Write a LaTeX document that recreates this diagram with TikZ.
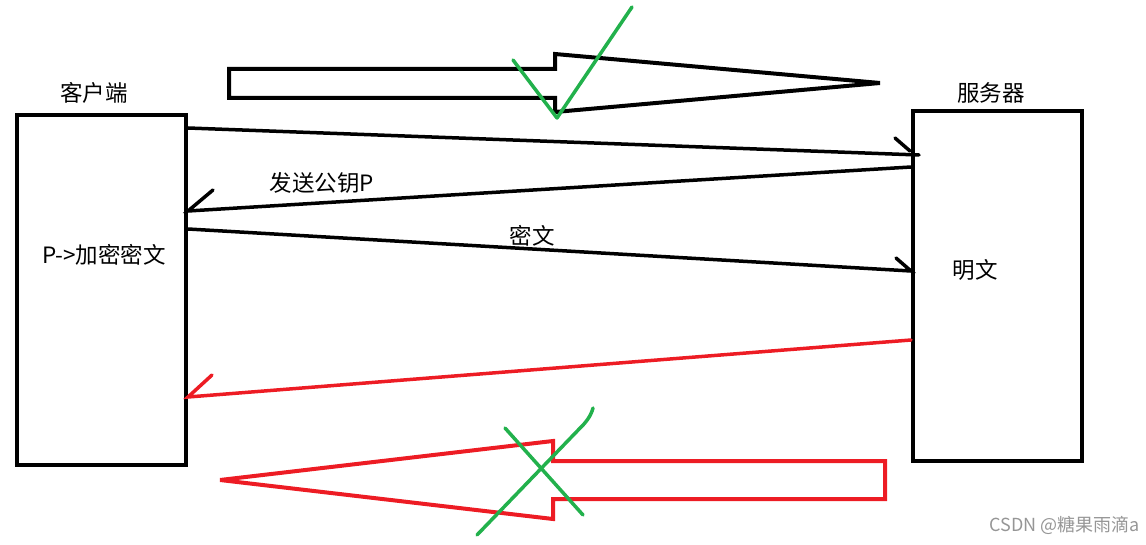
\documentclass[tikz,border=0pt]{standalone}
\usepackage{fontspec}
\newfontfamily\cjk{Noto Sans CJK SC}
\usetikzlibrary{calc}
\definecolor{paintred}{RGB}{237,28,36}
\definecolor{paintgreen}{RGB}{34,177,76}
\definecolor{markgray}{RGB}{150,150,150}

\begin{document}
\begin{tikzpicture}[x=1pt,y=-1pt,
  box/.style={draw,line width=4pt,minimum width=169pt,minimum height=350pt,inner sep=0pt},
  lbl/.style={font=\cjk\fontsize{22.5}{26}\selectfont,inner sep=0pt},
  msg/.style={line width=3.5pt,line cap=round},
  bigarrow/.style={line width=4pt,miter limit=4},
  okmark/.style={paintgreen,line width=3.5pt,line cap=round,line join=round}]
  \useasboundingbox (0,0) rectangle (1146,545);
  % client and server
  \node[box] (client) at (101.5,290) {};
  \node[box] (server) at (997.5,286) {};
  \node[lbl] (clientname) at (94,93) {客户端};
  \node[lbl] (servername) at (991,93) {服务器};
  \node[lbl] (encrypt) at (104,255) {P->加密密文};
  \node[lbl] (plain) at (975,270) {明文};
  % messages
  \coordinate (m1s) at (client.east |- 0,128);
  \coordinate (m1e) at ($(server.west |- 0,155)+(8,0)$);
  \coordinate (m2s) at (server.west |- 0,167);
  \coordinate (m2e) at (client.east |- 0,211);
  \coordinate (m3s) at (client.east |- 0,229);
  \coordinate (m3e) at (server.west |- 0,271);
  \coordinate (m4s) at (server.west |- 0,340);
  \coordinate (m4e) at (client.east |- 0,397);
  \draw[msg] (m1s) -- (m1e);
  \draw[msg] ($(m1e)+(-9,-4)$) -- ++(-15,-13);
  \draw[msg] (m2s) -- (m2e) -- ++(25,-21);
  \node[lbl] (pubkey) at (322,183) {发送公钥P};
  \draw[msg] (m3s) -- (m3e) -- ++(-15,-13);
  \node[lbl] (cipher) at (532,236) {密文};
  \draw[msg,paintred] (m4s) -- (m4e) -- ++(24,-22);
  % big arrows
  \draw[bigarrow] (229,69) -- (555,69) -- (555,54) -- (880,83) -- (555,112) -- (555,98) -- (229,98) -- cycle;
  \draw[bigarrow,paintred] (885,461) -- (553,461) -- (553,441) -- (220,480) -- (553,519) -- (553,499) -- (885,499) -- cycle;
  % marks
  \draw[okmark] (513,60) -- (557,118) -- (632,7);
  \draw[okmark] (505,428) -- (583,515);
  \draw[okmark] (477,535) -- (584,424) .. controls (590,417) and (592,412) .. (593,408);
  % watermark
  \node[font=\cjk\fontsize{18}{21}\selectfont,text=markgray,anchor=east,inner sep=0pt] (csdn) at (1140,525) {CSDN @糖果雨滴a};
\end{tikzpicture}
\end{document}
